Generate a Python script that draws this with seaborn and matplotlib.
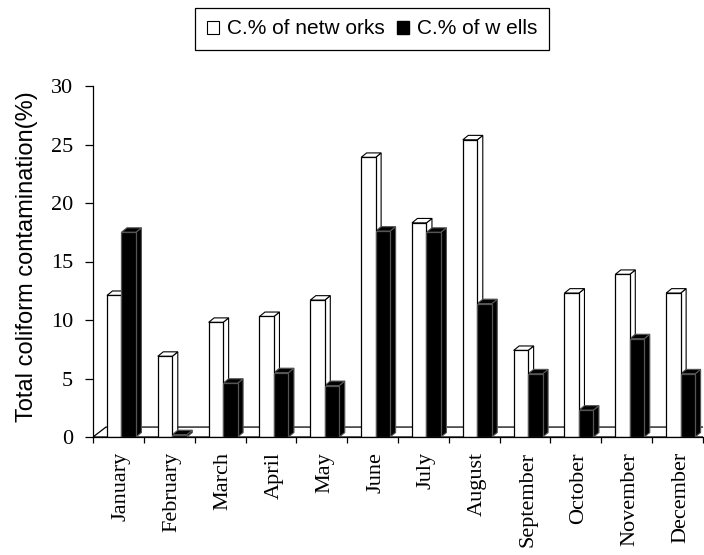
import numpy as np
import pandas as pd
import matplotlib
matplotlib.use("Agg")
import matplotlib.pyplot as plt
import seaborn as sns
from matplotlib.patches import Polygon, Patch

# ---------------- data ----------------
months = ["January", "February", "March", "April", "May", "June",
          "July", "August", "September", "October", "November", "December"]
networks = [12.1, 6.9, 9.8, 10.3, 11.7, 23.9, 18.3, 25.4, 7.4, 12.3, 13.9, 12.3]
wells = [17.5, 0.2, 4.6, 5.5, 4.4, 17.6, 17.5, 11.4, 5.4, 2.3, 8.4, 5.4]
series = ["C.% of netw orks", "C.% of w ells"]
y_ticks = [0, 5, 10, 15, 20, 25, 30]
y_label = "Total coliform contamination(%)"

# ---------------- style ----------------
sns.set_theme(style="white")
plt.rcParams["font.family"] = ["Liberation Sans", "DejaVu Sans"]
plt.rcParams["text.color"] = "black"
plt.rcParams["axes.labelcolor"] = "black"
plt.rcParams["xtick.color"] = "black"
plt.rcParams["ytick.color"] = "black"

df = pd.DataFrame({
    "Month": months * 2,
    "Value": networks + wells,
    "Series": [series[0]] * len(months) + [series[1]] * len(months),
})

fig = plt.figure(figsize=(7.04, 5.55), dpi=100)
ax = fig.add_axes([93 / 704, 1 - 437 / 555, 610 / 704, 351 / 555])

sns.barplot(data=df, x="Month", y="Value", hue="Series", order=months,
            hue_order=series, palette=["white", "black"], saturation=1,
            width=0.57, gap=0, edgecolor="black", linewidth=0.9,
            errorbar=None, legend=False, ax=ax)

ax.set_ylim(y_ticks[0], y_ticks[-1])
ax.set_xlim(-0.56, len(months) - 0.56)

# pseudo-3D depth (in data units)
DX, DY = 0.108, 0.38
FDX, FDY = 0.256, 0.85

# floor
x_lo, x_hi = ax.get_xlim()
floor = Polygon([(x_lo, 0), (x_hi, 0), (x_hi + FDX, FDY), (x_lo + FDX, FDY)],
                closed=True, facecolor="white", edgecolor="black",
                linewidth=0.9, zorder=1)
ax.add_patch(floor)

for p in ax.patches[:]:
    if p is floor:
        continue
    fc = p.get_facecolor()
    is_dark = fc[0] < 0.5
    x0 = p.get_x()
    w = p.get_width()
    h = p.get_height()
    x1 = x0 + w
    face = "black" if is_dark else "white"
    edge = "#555555" if is_dark else "black"
    p.set_zorder(3)
    p.set_edgecolor(edge if is_dark else "black")
    top = Polygon([(x0, h), (x1, h), (x1 + DX, h + DY), (x0 + DX, h + DY)],
                  closed=True, facecolor=face, edgecolor=edge,
                  linewidth=0.8, zorder=2)
    side = Polygon([(x1, 0), (x1 + DX, DY), (x1 + DX, h + DY), (x1, h)],
                   closed=True, facecolor=face, edgecolor=edge,
                   linewidth=0.8, zorder=2)
    ax.add_patch(side)
    ax.add_patch(top)

# axes styling
for s in ["top", "right"]:
    ax.spines[s].set_visible(False)
for s in ["left", "bottom"]:
    ax.spines[s].set_color("black")
    ax.spines[s].set_linewidth(0.9)
    ax.spines[s].set_zorder(4)

ax.set_yticks(y_ticks)
ax.set_yticklabels([str(t) for t in y_ticks], fontfamily="Liberation Serif",
                   fontsize=16)
ax.tick_params(axis="y", direction="out", length=6, width=0.9, pad=8.5,
               left=True)

ax.set_xticks(range(len(months)))
ax.set_xticklabels(months, rotation=90, fontfamily="Liberation Serif",
                   fontsize=16)
ax.set_xticks(np.arange(len(months) + 1) + x_lo, minor=True)
ax.tick_params(axis="x", which="major", length=0, pad=10.8, bottom=False)
ax.tick_params(axis="x", which="minor", direction="out", length=4,
               width=0.9, bottom=True)

ax.set_xlabel("")
ax.set_ylabel(y_label, fontsize=17)
ax.yaxis.set_label_coords(-0.09, 0.515)

handles = [Patch(facecolor="white", edgecolor="black", linewidth=0.8),
           Patch(facecolor="black", edgecolor="black")]
leg = fig.legend(handles=handles, labels=series, loc="center",
                 bbox_to_anchor=(372 / 704, 1 - 29 / 555), ncol=2,
                 fontsize=15, frameon=True, fancybox=False,
                 edgecolor="black", framealpha=1, handlelength=0.6,
                 handleheight=0.6, handletextpad=0.35, columnspacing=0.6,
                 borderpad=0.55)
leg.get_frame().set_linewidth(0.9)

fig.savefig("out.png", dpi=100)
